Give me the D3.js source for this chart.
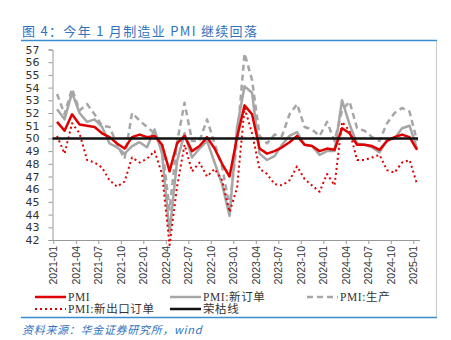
<!DOCTYPE html>
<html>
<head>
<meta charset="utf-8">
<script src="https://cdn.jsdelivr.net/npm/d3@7"></script>
<style>
  body { margin: 0; background: #fff; }
  svg { display: block; }
</style>
</head>
<body>
<script>
// monthly readings, 2021-01 .. 2025-01
const months = d3.range(49).map(i => {
  const y = 2021 + Math.floor(i / 12), m = (i % 12) + 1;
  return y + '-' + (m < 10 ? '0' + m : m);
});
const pmi = [51.3, 50.6, 51.9, 51.1, 51.0, 50.9, 50.4, 50.1, 49.6, 49.2, 50.1, 50.3,
  50.1, 50.2, 49.5, 47.4, 49.6, 50.2, 49.0, 49.4, 50.1, 49.2, 48.0, 47.0,
  50.1, 52.6, 51.9, 49.2, 48.8, 49.0, 49.3, 49.7, 50.2, 49.5, 49.4, 49.0,
  49.2, 49.1, 50.8, 50.4, 49.5, 49.5, 49.4, 49.1, 49.8, 50.1, 50.3, 50.1,
  49.1];
const newOrders = [52.3, 51.5, 53.6, 52.0, 51.3, 51.5, 50.9, 49.6, 49.3, 48.8, 49.4, 49.7,
  49.3, 50.7, 48.8, 42.6, 48.2, 50.4, 48.5, 49.2, 49.8, 48.1, 46.4, 43.9,
  50.9, 54.1, 53.6, 48.8, 48.3, 48.6, 49.5, 50.2, 50.5, 49.5, 49.4, 48.7,
  49.0, 49.0, 53.0, 51.1, 49.6, 49.5, 49.3, 48.9, 49.9, 50.0, 50.8, 51.0,
  49.2];
const production = [53.5, 51.9, 53.9, 52.2, 52.7, 51.9, 51.0, 50.9, 49.5, 48.4, 52.0, 51.4,
  50.9, 50.4, 49.5, 44.4, 49.7, 52.8, 49.8, 49.8, 51.5, 49.6, 47.8, 44.6,
  49.8, 56.7, 54.6, 50.2, 49.6, 50.3, 50.2, 51.9, 52.7, 50.9, 50.7, 50.2,
  51.3, 49.8, 52.2, 52.9, 50.8, 50.6, 50.1, 49.8, 51.2, 52.0, 52.4, 52.1,
  49.8];
const exportOrders = [50.2, 48.8, 51.2, 50.4, 48.3, 48.1, 47.7, 46.7, 46.2, 46.6, 48.5, 48.1,
  48.4, 49.0, 47.2, 41.6, 46.2, 49.5, 47.4, 48.1, 47.0, 47.6, 46.7, 44.2,
  46.1, 52.4, 50.4, 47.6, 47.2, 46.4, 46.3, 46.7, 47.8, 46.8, 46.3, 45.8,
  47.2, 46.3, 51.3, 50.6, 48.3, 48.3, 48.5, 48.7, 47.5, 47.3, 48.1, 48.3,
  46.4];
const boomBust = 50;
const yTicks = d3.range(42, 58);

const W = 451, H = 340;
const svg = d3.select('body').append('svg').attr('width', W).attr('height', H);

const blue = '#2f72bd';

svg.append('text')
  .attr('x', 22).attr('y', 36)
  .attr('fill', blue)
  .style('font-family', '"Noto Sans CJK SC", "Liberation Sans", sans-serif')
  .style('font-size', '13px')
  .style('letter-spacing', '1.3px')
  .text('图 4：今年 1 月制造业 PMI 继续回落');

// frame
svg.append('line').attr('x1', 21).attr('x2', 437).attr('y1', 40.5).attr('y2', 40.5)
  .attr('stroke', '#3b8bd0').attr('stroke-width', 1.5);
svg.append('line').attr('x1', 21).attr('x2', 437).attr('y1', 317.5).attr('y2', 317.5)
  .attr('stroke', '#3b8bd0').attr('stroke-width', 1.5);
svg.append('line').attr('x1', 436.5).attr('x2', 436.5).attr('y1', 41).attr('y2', 317)
  .attr('stroke', '#c8c8c8').attr('stroke-width', 1);

const x = d3.scaleLinear().domain([0, 48]).range([53.3, 413.3]);
const y = d3.scaleLinear().domain([42, 57]).range([240, 49.5]);
// points sit mid-month
const px = i => x(i + 0.5);

const yAxis = svg.append('g')
  .attr('transform', 'translate(52.5,0)')
  .call(d3.axisLeft(y).tickValues(yTicks).tickSize(4).tickPadding(9).tickFormat(d3.format('d')));
yAxis.select('.domain').attr('stroke', '#999');
yAxis.selectAll('.tick line').attr('stroke', '#999');
yAxis.selectAll('text')
  .attr('fill', '#333')
  .style('font-family', '"DejaVu Sans", sans-serif')
  .style('font-size', '11px');

const xAxis = svg.append('g')
  .attr('transform', 'translate(0,240)')
  .call(d3.axisBottom(x)
    .tickValues(d3.range(0, 49, 3))
    .tickSize(4)
    .tickFormat(i => months[i]));
xAxis.select('.domain').attr('d', 'M52.5,0.5H420').attr('stroke', '#999');
xAxis.selectAll('.tick line').attr('stroke', '#999');
xAxis.selectAll('text')
  .attr('transform', 'rotate(-90)')
  .attr('text-anchor', 'end')
  .attr('x', -6).attr('y', 0).attr('dy', '0.35em')
  .attr('fill', '#333')
  .style('font-family', '"Liberation Sans", Arial, sans-serif')
  .style('font-size', '10.5px');

const line = d3.line().x((d, i) => px(i)).y(d => y(d));

const series = [
  { name: 'PMI:生产', values: production, color: '#a6a6a6', width: 2.5, dash: '6,4' },
  { name: 'PMI:新订单', values: newOrders, color: '#a6a6a6', width: 2.5, dash: null },
  { name: 'PMI:新出口订单', values: exportOrders, color: '#e00000', width: 2, dash: '2,3' },
  { name: 'PMI', values: pmi, color: '#e00000', width: 2.5, dash: null }
];

series.forEach(s => {
  svg.append('path')
    .datum(s.values)
    .attr('d', line)
    .attr('fill', 'none')
    .attr('stroke', s.color)
    .attr('stroke-width', s.width)
    .attr('stroke-dasharray', s.dash)
    .attr('stroke-linejoin', 'round');
});

// 荣枯线
svg.append('line')
  .attr('x1', 52.5).attr('x2', 418)
  .attr('y1', y(boomBust)).attr('y2', y(boomBust))
  .attr('stroke', '#111').attr('stroke-width', 2.5);

// legend
const legend = [
  { label: 'PMI', color: '#e00000', dash: null, w: 2.5, x: 35, y: 297 },
  { label: 'PMI:新订单', color: '#a6a6a6', dash: null, w: 2.5, x: 170, y: 297 },
  { label: 'PMI:生产', color: '#a6a6a6', dash: '6,4', w: 2.5, x: 307, y: 297 },
  { label: 'PMI:新出口订单', color: '#e00000', dash: '2,3', w: 2, x: 35, y: 309 },
  { label: '荣枯线', color: '#111', dash: null, w: 2.5, x: 170, y: 309 }
];
const lg = svg.append('g').selectAll('g').data(legend).join('g')
  .attr('transform', d => `translate(${d.x},${d.y})`);
lg.append('line')
  .attr('x1', 0).attr('x2', 31).attr('y1', 0).attr('y2', 0)
  .attr('stroke', d => d.color)
  .attr('stroke-width', d => d.w)
  .attr('stroke-dasharray', d => d.dash);
lg.append('text')
  .attr('x', 33).attr('y', 0).attr('dy', '0.35em')
  .attr('fill', '#333')
  .style('font-family', '"Liberation Serif", "Noto Sans CJK SC", serif')
  .style('font-size', '11.5px')
  .style('letter-spacing', '0.6px')
  .text(d => d.label);

svg.append('text')
  .attr('x', 22).attr('y', 334)
  .attr('fill', blue)
  .style('font-family', '"Noto Sans CJK SC", sans-serif')
  .style('font-style', 'italic')
  .style('font-size', '11px')
  .style('letter-spacing', '0.7px')
  .text('资料来源：华金证券研究所，wind');
</script>
</body>
</html>
